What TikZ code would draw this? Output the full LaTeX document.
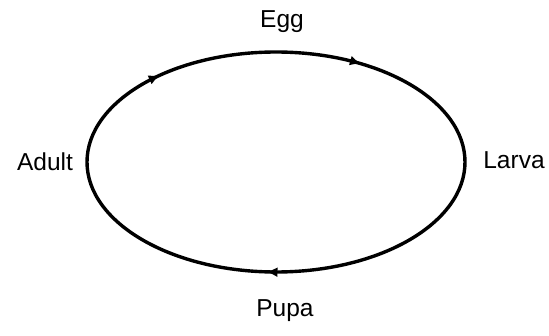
\documentclass[tikz,border=0pt]{standalone}
\usepackage{fontspec}
\setmainfont{Liberation Sans}
\usetikzlibrary{arrows.meta, decorations.markings}

\begin{document}
\begin{tikzpicture}[
		x=1pt, y=1pt,
		font=\fontsize{24.5}{28}\selectfont,
		stage/.style={inner sep=1pt},
		cycle/.style={line width=3.4pt,
			postaction={decorate},
			decoration={markings,
				mark=at position 0.09 with {\arrow{Latex[length=11pt,width=10pt]}},
				mark=at position 0.51 with {\arrow{Latex[length=11pt,width=10pt]}},
				mark=at position 0.875 with {\arrow{Latex[length=11pt,width=10pt]}}}}
		]
		
		% Frame
		\useasboundingbox (0,0) rectangle (549,335);
		
		% Stages
		\node[stage] (egg) at (282,313) {Egg};
		\node[stage] (larva) at (514,175) {Larva};
		\node[stage] (pupa) at (285,24) {Pupa};
		\node[stage] (adult) at (45,173) {Adult};
		
		% Life cycle
		\coordinate (top) at (276,283);
		\draw[cycle] (top) arc[start angle=90, end angle=-270, x radius=189, y radius=110];
		
	\end{tikzpicture}
\end{document}
